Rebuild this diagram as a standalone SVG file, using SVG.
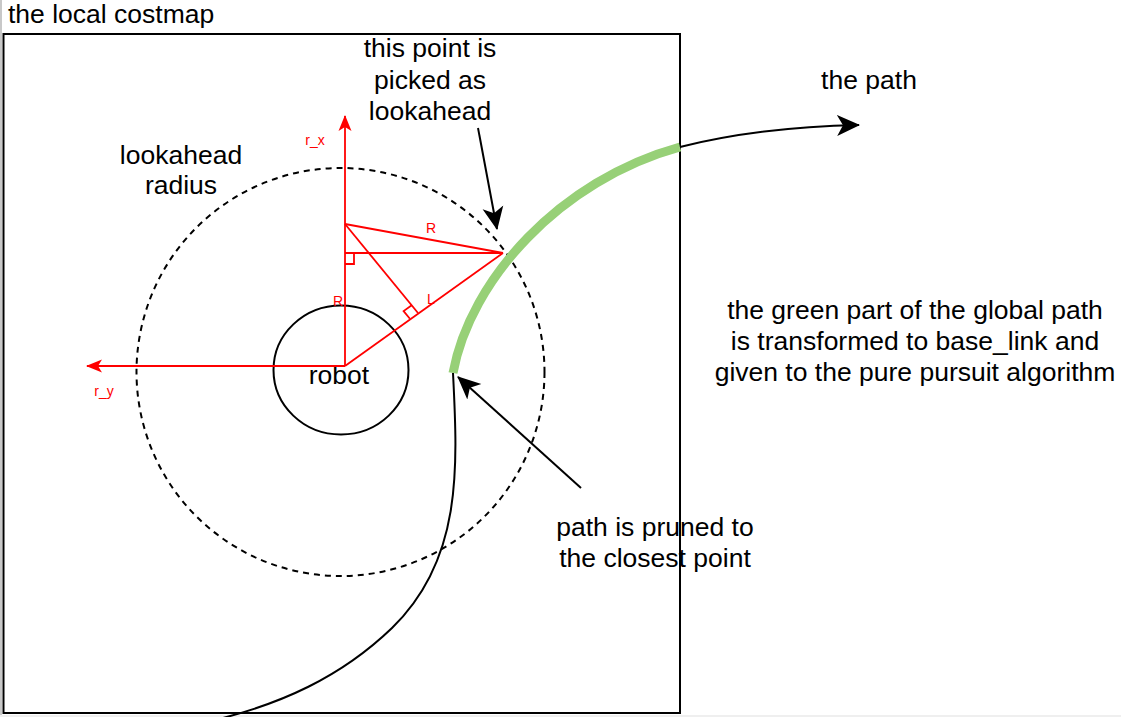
<svg xmlns="http://www.w3.org/2000/svg" width="1121" height="717" viewBox="0 0 1121 717">
<defs>
<style>
.t{font-family:"Liberation Sans",Arial,sans-serif;font-size:26.5px;fill:#000;text-anchor:middle}
.r{font-family:"Liberation Sans",Arial,sans-serif;font-size:14px;fill:#ff0000;text-anchor:middle}
.rl{stroke:#ff0000;stroke-width:1.8;fill:none}
.bl{stroke:#000;stroke-width:2;fill:none}
</style>
<marker id="ab" viewBox="0 0 24 24" refX="22" refY="12" markerWidth="24" markerHeight="24" markerUnits="userSpaceOnUse" orient="auto">
<path d="M0,1.5 L23,12 L0,22.5 L6,12 Z" fill="#000"/>
</marker>
<marker id="ar" viewBox="0 0 16 16" refX="15" refY="8" markerWidth="16" markerHeight="16" markerUnits="userSpaceOnUse" orient="auto">
<path d="M0,1.5 L16,8 L0,14.5 L4,8 Z" fill="#ff0000"/>
</marker>
</defs>
<rect width="1121" height="717" fill="#fff"/>
<rect x="0" y="0" width="2" height="717" fill="#c8c8c8"/>
<rect x="0" y="715" width="1121" height="2" fill="#efefef"/>

<g id="costmap">
<rect x="3.5" y="34" width="676.5" height="679" fill="none" stroke="#000" stroke-width="2"/>
<text class="t" x="8" y="23" style="text-anchor:start">the local costmap</text>
</g>

<g id="lookahead-circle">
<circle cx="340.5" cy="372" r="204" fill="none" stroke="#000" stroke-width="2" stroke-dasharray="6 5"/>
<text class="t" x="181" y="164">lookahead</text>
<text class="t" x="181" y="194">radius</text>
</g>

<g id="robot">
<ellipse cx="341" cy="370" rx="67.5" ry="64.5" fill="none" stroke="#000" stroke-width="2"/>
<text class="t" x="339" y="384">robot</text>
</g>

<g id="axes">
<line class="rl" x1="345" y1="366" x2="345" y2="116" marker-end="url(#ar)"/>
<line class="rl" x1="345" y1="366" x2="87" y2="366" marker-end="url(#ar)"/>
<text class="r" x="315" y="145">r_x</text>
<text class="r" x="104" y="396">r_y</text>
</g>

<g id="geometry">
<line class="rl" x1="345" y1="224" x2="503" y2="253"/>
<line class="rl" x1="345" y1="253" x2="503" y2="253"/>
<line class="rl" x1="345" y1="366" x2="503" y2="253"/>
<line class="rl" x1="345" y1="224" x2="418" y2="313"/>
<polyline class="rl" points="345,264 354,264 354,253"/>
<polyline class="rl" points="409.9,318.8 403.6,311.1 411.7,305.3"/>
<text class="r" x="431" y="233">R</text>
<text class="r" x="431" y="304">L</text>
<text class="r" x="338" y="306">R</text>
</g>

<g id="connectors">
<path d="M453,373 C470,280 560,180 680,147" fill="none" stroke="#97D077" stroke-width="9"/>
<path class="bl" d="M680,147 Q760,127 859,125" marker-end="url(#ab)"/>
<path class="bl" d="M453,373 C458,470 462,560 392,628 C340,678 280,704 215,720"/>
<line class="bl" x1="478" y1="128" x2="497" y2="229" marker-end="url(#ab)"/>
<line class="bl" x1="581" y1="488" x2="458" y2="377" marker-end="url(#ab)"/>
</g>

<g id="labels">
<text class="t" x="430" y="57">this point is</text>
<text class="t" x="430" y="89">picked as</text>
<text class="t" x="430" y="120">lookahead</text>
<text class="t" x="869" y="89">the path</text>
<text class="t" x="915" y="319">the green part of the global path</text>
<text class="t" x="915" y="350">is transformed to base_link and</text>
<text class="t" x="915" y="381">given to the pure pursuit algorithm</text>
<text class="t" x="655" y="536">path is pruned to</text>
<text class="t" x="655" y="567">the closest point</text>
</g>
</svg>
